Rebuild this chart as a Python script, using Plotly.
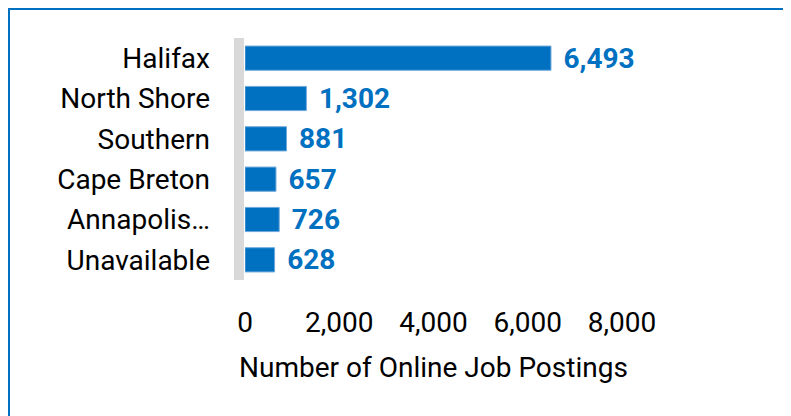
import plotly.graph_objects as go

regions = ["Halifax", "North Shore", "Southern", "Cape Breton", "Annapolis…", "Unavailable"]
postings = [6493, 1302, 881, 657, 726, 628]
tick_vals = [0, 2000, 4000, 6000, 8000]
tick_text = ["0", "2,000", "4,000", "6,000", "8,000"]
x_title = "Number of Online Job Postings"

# page body has an 8px margin, so the figure starts at screen (8, 8)
OFF = 8
W, H = 791 - OFF, 416 - OFF
L, R, T, B = 245 - OFF, 169, 38 - OFF, 136
pw, ph = W - L - R, H - T - B

def px(x):
    return (x - OFF - L) / pw

def py(y):
    return (H - B - (y - OFF)) / ph

fig = go.Figure(go.Bar(
    x=postings, y=regions, orientation="h",
    marker=dict(color="#0070C0", line=dict(color="#6FA8DC", width=1)),
    width=0.6,
    text=postings, texttemplate="\u2004%{x:,}", textposition="outside",
    constraintext="none", cliponaxis=False,
    textfont=dict(family="Roboto", size=28, color="#0070C0", weight="bold"),
))

fig.update_layout(
    width=W, height=H,
    margin=dict(l=L, r=R, t=T, b=B),
    paper_bgcolor="white", plot_bgcolor="white",
    showlegend=False,
    font=dict(family="Roboto", size=28, color="#000000"),
    xaxis=dict(range=[0, 8000], tickvals=tick_vals, ticktext=tick_text,
               showgrid=False, zeroline=False, showline=False,
               ticklabelstandoff=23, tickfont=dict(size=28),
               title=dict(text=x_title, standoff=19, font=dict(size=28))),
    yaxis=dict(autorange="reversed", showgrid=False, zeroline=False, showline=False,
               ticklabelstandoff=34, tickfont=dict(size=28)),
    shapes=[
        dict(type="rect", xref="paper", yref="paper", x0=px(234), x1=px(244), y0=0, y1=1,
             fillcolor="#D9D9D9", line=dict(width=0), layer="below"),
        dict(type="line", xref="paper", yref="paper", x0=px(7), x1=px(800), y0=py(8.5), y1=py(8.5),
             line=dict(color="#0070C0", width=3)),
        dict(type="line", xref="paper", yref="paper", x0=px(8.5), x1=px(8.5), y0=py(7), y1=py(430),
             line=dict(color="#0070C0", width=3)),
    ],
)

fig.write_html("out.html")
